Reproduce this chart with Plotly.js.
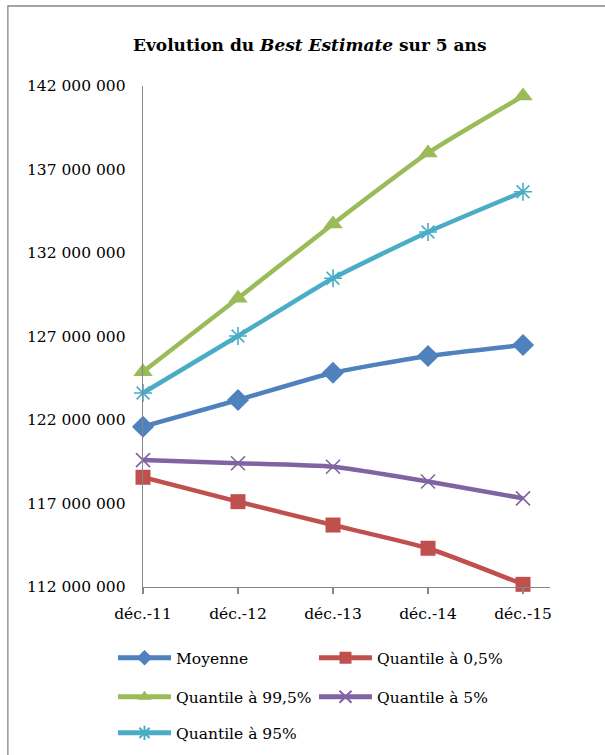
<!DOCTYPE html>
<html>
<head>
<meta charset="utf-8">
<script src="https://cdn.plot.ly/plotly-3.0.1.min.js"></script>
<style>
  html, body { margin: 0; padding: 0; background: #fff; }
  #chart { width: 605px; height: 755px; }
</style>
</head>
<body>
<div id="chart"></div>
<script>
// Evolution of the Best Estimate over 5 years (in euros)
const periods = ['déc.-11', 'déc.-12', 'déc.-13', 'déc.-14', 'déc.-15'];

const moyenne    = [121600000, 123200000, 124830000, 125830000, 126490000];
const quantile05 = [118570000, 117110000, 115710000, 114320000, 112160000];
const quantile995 = [124890000, 129290000, 133740000, 137990000, 141400000];
const quantile5  = [119600000, 119410000, 119200000, 118320000, 117310000];
const quantile95 = [123620000, 127030000, 130490000, 133260000, 135670000];

const seriesNames = ['Moyenne', 'Quantile à 0,5%', 'Quantile à 99,5%', 'Quantile à 5%', 'Quantile à 95%'];

const serif = 'DejaVu Serif, Liberation Serif, serif';

function series(name, values, color, symbol, size, legendId, markerLine) {
  return {
    type: 'scatter',
    mode: 'lines+markers',
    name: name,
    x: periods,
    y: values,
    legend: legendId,
    line: { color: color, width: 4.5, shape: 'spline', smoothing: 0.5 },
    marker: {
      symbol: symbol,
      size: size,
      color: color,
      line: markerLine ? { color: color, width: 1.6 } : { width: 0 }
    },
    cliponaxis: false
  };
}

const traces = [
  series(seriesNames[0], moyenne,     '#4F81BD', 'diamond',       17, 'legend',  false),
  series(seriesNames[1], quantile05,  '#C0504D', 'square',        15, 'legend',  false),
  series(seriesNames[2], quantile995, '#9BBB59', 'triangle-up',   17, 'legend2', false),
  series(seriesNames[3], quantile5,   '#8064A2', 'x-thin-open',   14, 'legend2', true),
  series(seriesNames[4], quantile95,  '#4BACC6', 'asterisk-open', 15, 'legend3', true)
];

// one horizontal legend per row, two entries per row
function legendRow(y) {
  return {
    orientation: 'h',
    x: -0.0737, xanchor: 'left',
    y: y, yanchor: 'middle',
    entrywidth: 133, entrywidthmode: 'pixels',
    itemwidth: 53,
    itemsizing: 'constant',
    font: { family: serif, size: 15.5, color: '#000' },
    bgcolor: 'rgba(0,0,0,0)',
    traceorder: 'normal'
  };
}

const axisGrey = '#868686';

const layout = {
  width: 605,
  height: 755,
  margin: { l: 143, r: 55, t: 86, b: 168, autoexpand: false },
  paper_bgcolor: '#fff',
  plot_bgcolor: '#fff',
  separators: ', ',
  showlegend: true,
  title: {
    text: '<b>Evolution du <i>Best Estimate</i> sur 5 ans</b>',
    font: { family: serif, size: 17, color: '#000' },
    x: 0.512, xanchor: 'center',
    y: 0.94, yanchor: 'middle'
  },
  xaxis: {
    type: 'category',
    range: [0, 4.284],
    showgrid: false,
    zeroline: false,
    showline: true,
    linecolor: axisGrey,
    linewidth: 1.3,
    ticks: 'outside',
    ticklen: 6,
    tickcolor: axisGrey,
    tickwidth: 1.3,
    ticklabelstandoff: 6,
    tickfont: { family: serif, size: 15.5, color: '#000' }
  },
  yaxis: {
    range: [112000000, 142000000],
    dtick: 5000000,
    tick0: 112000000,
    tickformat: ',d',
    showgrid: false,
    zeroline: false,
    showline: true,
    linecolor: axisGrey,
    linewidth: 1.3,
    ticks: '',
    ticklabelstandoff: 13,
    tickfont: { family: serif, size: 15.5, color: '#000' }
  },
  legend:  legendRow(-0.142),
  legend2: legendRow(-0.220),
  legend3: legendRow(-0.292),
  shapes: [{
    // chart frame
    type: 'rect', xref: 'paper', yref: 'paper',
    x0: -0.332, x1: 1.25, y0: 1.1597, y1: -0.45,
    line: { color: axisGrey, width: 1.3 },
    fillcolor: 'rgba(0,0,0,0)',
    layer: 'below'
  }]
};

Plotly.newPlot('chart', traces, layout, { displayModeBar: false, staticPlot: true });
</script>
</body>
</html>
